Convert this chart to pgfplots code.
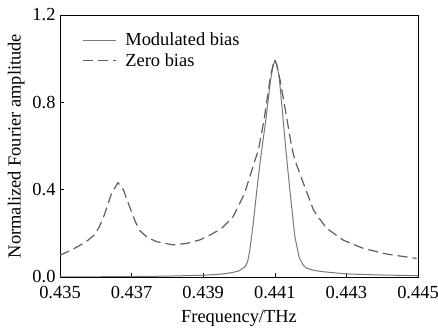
\documentclass[border=0pt]{standalone}
\usepackage{pgfplots}
\pgfplotsset{compat=1.18}
\usepackage{fontspec}
\setmainfont{Liberation Serif}
\definecolor{solidgray}{RGB}{120,120,120}
\definecolor{dashgray}{RGB}{95,95,95}
\begin{document}
\begin{tikzpicture}
\begin{axis}[
  scale only axis,
  width=358bp, height=262bp,
  xmin=0.435, xmax=0.445, ymin=0, ymax=1.2,
  xtick={0.435,0.437,0.439,0.441,0.443,0.445},
  xticklabels={0.435,0.437,0.439,0.441,0.443,0.445},
  ytick={0,0.4,0.8,1.2},
  yticklabels={0.0,0.4,0.8,1.2},
  tick align=inside,
  xtick pos=bottom, ytick pos=left,
  major tick length=4bp,
  tick style={black, line width=0.6bp},
  axis line style={line width=0.9bp},
  /pgf/number format/assume math mode=true,
  tick label style={font=\fontsize{18.5}{21}\selectfont},
  label style={font=\fontsize{18.5}{21}\selectfont},
  xticklabel style={yshift=-6bp},
  yticklabel style={xshift=-1bp, inner ysep=0bp},
  xlabel={Frequency/THz},
  ylabel={Normalized Fourier amplitude},
  xlabel style={yshift=-4bp},
  ylabel style={yshift=1bp},
  legend style={at={(22bp,246bp)}, anchor=north west, draw=none, fill=none,
    font=\fontsize{18.5}{21}\selectfont, row sep=2bp, inner sep=0bp,
    /tikz/every odd column/.append style={column sep=7bp}},
  legend cell align=left,
  legend image code/.code={\draw[#1] (0bp,0bp) -- (33bp,0bp);},
]
\addplot[solidgray, line width=1.0bp] coordinates {
(0.4350,0.000) (0.4360,0.001) (0.4370,0.002) (0.4380,0.004) (0.4390,0.008)
(0.4395,0.013) (0.4398,0.020) (0.4400,0.028) (0.44017,0.047) (0.44024,0.07)
(0.44030,0.12) (0.44040,0.25) (0.44050,0.40) (0.44060,0.54) (0.44075,0.72)
(0.44088,0.90) (0.44095,0.965) (0.44100,0.99) (0.44105,0.975) (0.44112,0.92)
(0.44120,0.78) (0.44131,0.58) (0.44142,0.40) (0.44156,0.185) (0.44168,0.09)
(0.44179,0.055) (0.44189,0.040) (0.44210,0.030) (0.44236,0.024) (0.44301,0.014)
(0.4440,0.009) (0.4450,0.006)
};
\addlegendentry{Modulated bias}
\addplot[dashgray, line width=1.2bp, dash pattern=on 10bp off 5bp] coordinates {
(0.43500,0.100) (0.43530,0.122) (0.43556,0.145) (0.43578,0.168) (0.43596,0.193)
(0.43610,0.230) (0.43624,0.285) (0.43644,0.383)
(0.43662,0.432) (0.43677,0.400) (0.43691,0.337) (0.43710,0.255) (0.43723,0.212) (0.43745,0.180) (0.43770,0.162)
(0.43816,0.147) (0.43854,0.154) (0.43891,0.170) (0.43914,0.188) (0.43950,0.220)
(0.43983,0.275) (0.44015,0.380) (0.44045,0.536) (0.44054,0.580) (0.44070,0.720)
(0.44088,0.920) (0.44095,0.970) (0.44100,0.995) (0.44105,0.975) (0.44115,0.900)
(0.44130,0.760) (0.44147,0.597) (0.44156,0.536) (0.44180,0.429) (0.44208,0.307)
(0.44221,0.275) (0.44245,0.223) (0.44291,0.169) (0.44347,0.131) (0.44413,0.105)
(0.44496,0.085)
};
\addlegendentry{Zero bias}
\coordinate (SW) at (rel axis cs:0,0);
\coordinate (NE) at (rel axis cs:1,1);
\end{axis}
\pgfresetboundingbox
\path[use as bounding box] ([shift={(-60bp,-54bp)}]SW) rectangle ([shift={(20bp,15bp)}]NE);
\end{tikzpicture}
\end{document}
